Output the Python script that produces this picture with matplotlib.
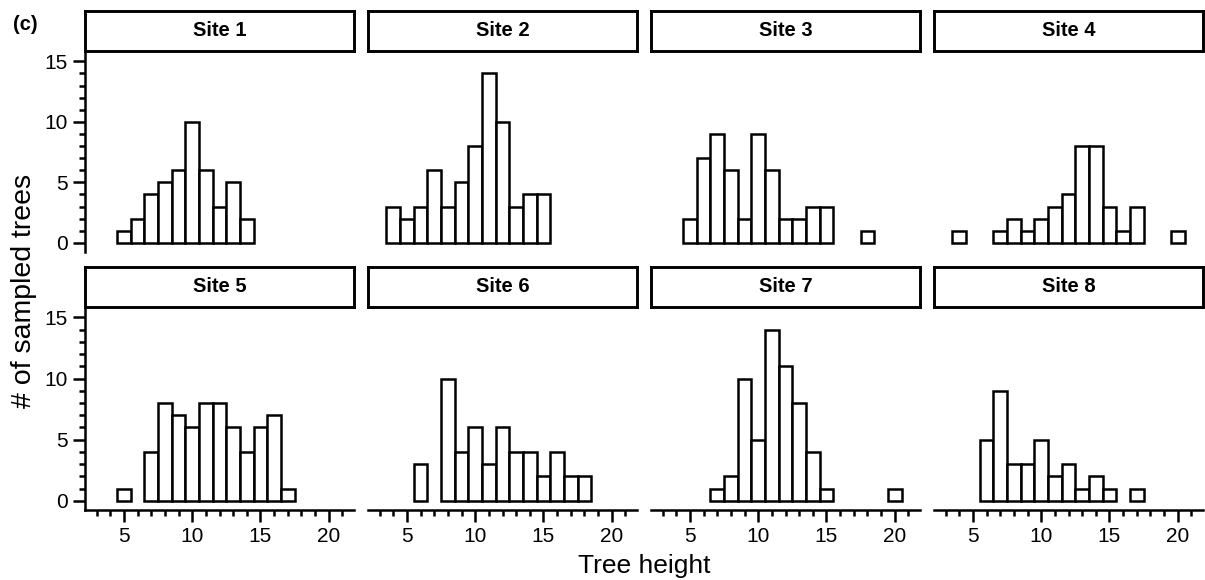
import numpy as np
import matplotlib
matplotlib.use("Agg")
import matplotlib.pyplot as plt

plt.rcParams['font.family'] = ['Liberation Sans', 'DejaVu Sans']

sites = ["Site 1", "Site 2", "Site 3", "Site 4",
         "Site 5", "Site 6", "Site 7", "Site 8"]

# bin centres (tree height) and counts
site1_x = [5, 6, 7, 8, 9, 10, 11, 12, 13, 14]
site1_n = [1, 2, 4, 5, 6, 10, 6, 3, 5, 2]
site2_x = [4, 5, 6, 7, 8, 9, 10, 11, 12, 13, 14, 15]
site2_n = [3, 2, 3, 6, 3, 5, 8, 14, 10, 3, 4, 4]
site3_x = [5, 6, 7, 8, 9, 10, 11, 12, 13, 14, 15, 18]
site3_n = [2, 7, 9, 6, 2, 9, 6, 2, 2, 3, 3, 1]
site4_x = [4, 7, 8, 9, 10, 11, 12, 13, 14, 15, 16, 17, 20]
site4_n = [1, 1, 2, 1, 2, 3, 4, 8, 8, 3, 1, 3, 1]
site5_x = [5, 7, 8, 9, 10, 11, 12, 13, 14, 15, 16, 17]
site5_n = [1, 4, 8, 7, 6, 8, 8, 6, 4, 6, 7, 1]
site6_x = [6, 8, 9, 10, 11, 12, 13, 14, 15, 16, 17, 18]
site6_n = [3, 10, 4, 6, 3, 6, 4, 4, 2, 4, 2, 2]
site7_x = [7, 8, 9, 10, 11, 12, 13, 14, 15, 20]
site7_n = [1, 2, 10, 5, 14, 11, 8, 4, 1, 1]
site8_x = [6, 7, 8, 9, 10, 11, 12, 13, 14, 15, 17]
site8_n = [5, 9, 3, 3, 5, 2, 3, 1, 2, 1, 1]

xs = [site1_x, site2_x, site3_x, site4_x, site5_x, site6_x, site7_x, site8_x]
ns = [site1_n, site2_n, site3_n, site4_n, site5_n, site6_n, site7_n, site8_n]

W, H = 1205, 580
fig = plt.figure(figsize=(W / 100, H / 100), dpi=100)

def px_rect(x0, y0, x1, y1):
    # pixel box (top-left origin) -> figure fraction
    return [x0 / W, 1 - y1 / H, (x1 - x0) / W, (y1 - y0) / H]

col_left = [85, 368, 651, 934]
col_w = 269
rows = [(11, 51, 252), (267, 307, 510)]  # strip top, plot top, plot bottom
lw = 1.8

for i, name in enumerate(sites):
    r, c = divmod(i, 4)
    st, pt, pb = rows[r]
    x0 = col_left[c]

    ax = fig.add_axes(px_rect(x0, pt, x0 + col_w, pb))
    ax.bar(xs[i], ns[i], width=1.0, color='white', edgecolor='black', linewidth=lw)
    ax.set_xlim(2.15, 21.85)
    ax.set_ylim(-0.75, 15.85)
    for s in ['top', 'right']:
        ax.spines[s].set_visible(False)
    ax.spines['left'].set_visible(c == 0)
    ax.spines['bottom'].set_visible(r == 1)
    ax.spines['left'].set_linewidth(lw)
    ax.spines['bottom'].set_linewidth(lw)

    ax.set_xticks([5, 10, 15, 20])
    ax.set_xticks(np.arange(3, 22), minor=True)
    ax.set_yticks([0, 5, 10, 15])
    ax.set_yticks(np.arange(0, 16), minor=True)
    ax.tick_params(which='major', length=8.5, width=lw, labelsize=15, pad=4)
    ax.tick_params(which='minor', length=4.5, width=lw)
    ax.tick_params(axis='x', bottom=(r == 1), labelbottom=(r == 1))
    ax.tick_params(axis='x', which='minor', bottom=(r == 1))
    ax.tick_params(axis='y', left=(c == 0), labelleft=(c == 0))
    ax.tick_params(axis='y', which='minor', left=(c == 0))
    ax.patch.set_alpha(0)

    # facet strip
    sax = fig.add_axes(px_rect(x0, st, x0 + col_w, pt))
    sax.set_xticks([])
    sax.set_yticks([])
    for s in sax.spines.values():
        s.set_linewidth(lw + 0.3)
    sax.text(0.5, 0.5, name, ha='center', va='center', fontsize=14.5,
             fontweight='bold', transform=sax.transAxes)

fig.text(13 / W, 1 - 25 / H, "(c)", fontsize=14.5, fontweight='bold',
         ha='left', va='center')
fig.text(24 / W, 1 - 291 / H, "# of sampled trees", fontsize=20.5,
         rotation=90, ha='center', va='center')
fig.text(644 / W, 1 - 566 / H, "Tree height", fontsize=19,
         ha='center', va='center')

fig.savefig("out.png", dpi=100)
